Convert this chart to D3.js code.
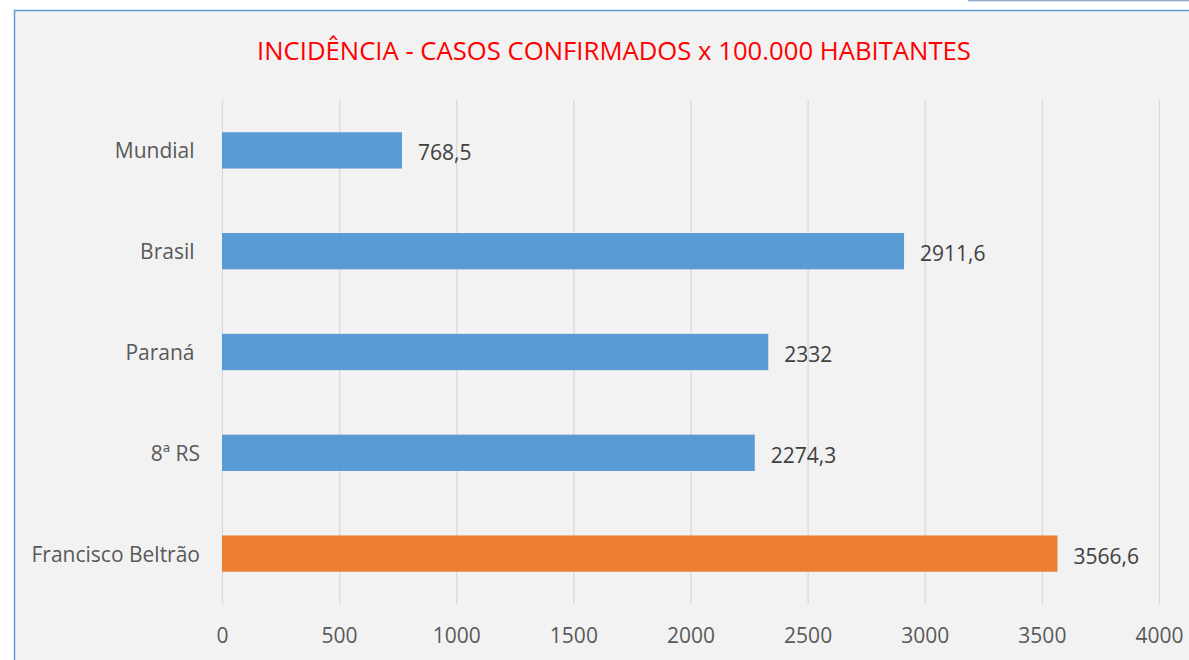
<!DOCTYPE html>
<html>
<head>
<meta charset="utf-8">
<script src="https://cdn.jsdelivr.net/npm/d3@7"></script>
<style>
	body { margin: 0; background: #ffffff; overflow: hidden; }
	text { font-family: "Open Sans", sans-serif; }
</style>
</head>
<body>
<div id="vis"></div>
<script>
const width = 1189;
const height = 660;

// data
const categories = ["Mundial ", "Brasil ", "Paraná ", "8ª RS", "Francisco Beltrão"];
const values = [768.5, 2911.6, 2332, 2274.3, 3566.6];
const valueLabels = ["768,5", "2911,6", "2332", "2274,3", "3566,6"];
const barColors = ["#5b9bd5", "#5b9bd5", "#5b9bd5", "#5b9bd5", "#ed7d31"];
const ticks = [0, 500, 1000, 1500, 2000, 2500, 3000, 3500, 4000];
const title = "INCIDÊNCIA - CASOS CONFIRMADOS x 100.000 HABITANTES";

const svg = d3.select("#vis")
	.append("svg")
		.attr("width", width)
		.attr("height", height);

// bit of another frame peeking at the top right
svg.append("line")
	.attr("x1", 968).attr("x2", width)
	.attr("y1", 0.5).attr("y2", 0.5)
	.attr("stroke", "#8eaacb")
	.attr("stroke-width", 1.5);

// chart area, runs off the right and bottom
svg.append("rect")
	.attr("x", 14.5)
	.attr("y", 10.5)
	.attr("width", width + 20)
	.attr("height", height + 20)
	.attr("fill", "#f2f2f2")
	.attr("stroke", "#5b9bd5")
	.attr("stroke-width", 1.5);

svg.append("text")
	.attr("x", 614)
	.attr("y", 50)
	.attr("text-anchor", "middle")
	.attr("dominant-baseline", "central")
	.attr("fill", "#ff0000")
	.style("font-size", "25.7px")
	.text(title);

const plot = {left: 222, right: 1159, top: 100, bottom: 604};

const x = d3.scaleLinear()
	.domain([0, 4000])
	.range([plot.left, plot.right]);

const y = d3.scaleBand()
	.domain(categories)
	.range([plot.top, plot.bottom])
	.paddingInner(0.64)
	.paddingOuter(0.32);

// gridlines + tick labels
const xAxis = svg.append("g")
	.attr("transform", `translate(0, ${plot.bottom})`)
	.call(d3.axisBottom(x).tickValues(ticks).tickSize(-(plot.bottom - plot.top)).tickFormat(d3.format("d")));

xAxis.select(".domain").remove();
xAxis.selectAll(".tick line")
	.attr("stroke", "#d9d9d9")
	.attr("stroke-width", 1.3);
xAxis.selectAll(".tick text")
	.attr("fill", "#595959")
	.attr("dy", "0.32em")
	.attr("y", 32)
	.style("font-size", "21px")
	.style("font-family", "'Open Sans', sans-serif");

svg.selectAll("rect.bar")
	.data(categories)
	.enter()
	.append("rect")
		.classed("bar", true)
		.attr("x", x(0))
		.attr("y", d => y(d))
		.attr("width", (d, i) => x(values[i]) - x(0))
		.attr("height", y.bandwidth())
		.attr("fill", (d, i) => barColors[i]);

svg.selectAll("text.cat")
	.data(categories)
	.enter()
	.append("text")
		.classed("cat", true)
		.attr("x", 200)
		.attr("y", d => y(d) + y.bandwidth() / 2)
		.attr("text-anchor", "end")
		.attr("dominant-baseline", "central")
		.attr("fill", "#595959")
		.style("white-space", "pre")
		.style("font-size", "21px")
		.text(d => d);

svg.selectAll("text.val")
	.data(categories)
	.enter()
	.append("text")
		.classed("val", true)
		.attr("x", (d, i) => x(values[i]) + 16)
		.attr("y", d => y(d) + y.bandwidth() / 2 + 2)
		.attr("dominant-baseline", "central")
		.attr("fill", "#404040")
		.style("font-size", "21px")
		.text((d, i) => valueLabels[i]);
</script>
</body>
</html>
